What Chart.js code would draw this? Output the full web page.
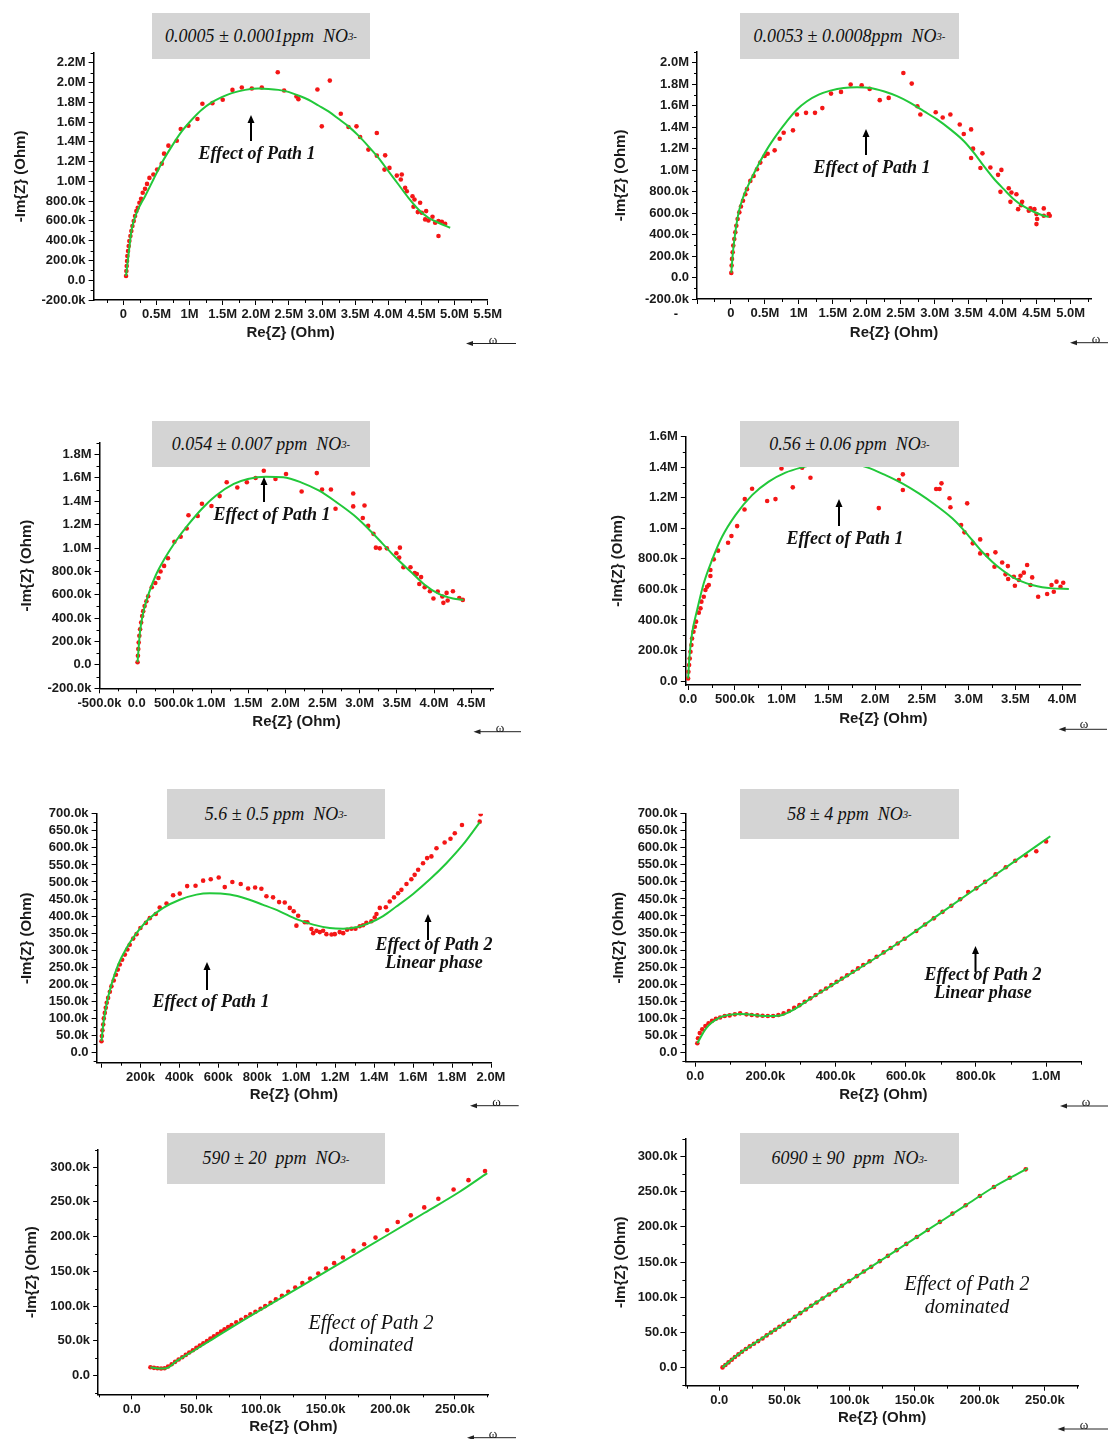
<!DOCTYPE html>
<html><head><meta charset="utf-8">
<script src="https://cdn.jsdelivr.net/npm/chart.js@4.4.1/dist/chart.umd.min.js"></script>
<style>
html,body{margin:0;padding:0;background:#fff;}
body{position:relative;width:1108px;height:1439px;overflow:hidden;}
canvas{position:absolute;}
.box{position:absolute;background:#d4d4d4;font-family:"Liberation Serif",serif;font-style:italic;font-size:18px;color:#111;display:flex;align-items:center;justify-content:center;white-space:pre;}
.box .s{font-size:0.6em;vertical-align:-0.15em;}
.note{position:absolute;transform:translate(-50%,-50%);font-family:"Liberation Serif",serif;font-style:italic;font-weight:bold;font-size:18px;color:#111;white-space:nowrap;line-height:1;}
.note.big{font-weight:normal;font-size:20px;}
.om{position:absolute;transform:translate(-50%,-50%);font-family:"Liberation Serif",serif;font-size:13px;color:#111;line-height:1;}
.dash{position:absolute;transform:translate(-50%,-50%);font-family:"Liberation Sans",sans-serif;font-weight:bold;font-size:13px;color:#111;}
svg{position:absolute;left:0;top:0;}
</style>
</head><body>
<script>
// ---------------- DATA ----------------
// Panel 1: 0.0005 ppm (x in M-ohm, y in M-ohm)
const p1X=[0.04,0.045,0.05,0.055,0.06,0.07,0.08,0.09,0.106,0.12,0.136,0.156,0.176,0.196,0.217,0.242,0.267,0.292,0.327,0.357,0.393,0.453,0.509,0.579,0.614,0.68,0.806,0.866,0.982,1.118,1.193,1.344,1.5,1.647,1.788,1.939,2.09,2.331,2.427,2.613,2.643,2.93,2.996,3.117,3.283,3.399,3.52,3.575,3.7,3.827,3.827,3.953,3.943,4.018,4.129,4.204,4.189,4.255,4.28,4.366,4.396,4.481,4.381,4.446,4.506,4.572,4.557,4.607,4.668,4.708,4.758,4.809,4.859,4.758];
const p1Y=[0.043,0.094,0.144,0.195,0.245,0.296,0.346,0.397,0.447,0.497,0.548,0.598,0.649,0.699,0.733,0.783,0.823,0.884,0.924,0.974,1.035,1.069,1.119,1.179,1.28,1.361,1.411,1.529,1.562,1.63,1.784,1.791,1.825,1.925,1.949,1.939,1.949,2.104,1.919,1.858,1.831,1.929,1.556,2.019,1.683,1.549,1.556,1.448,1.321,1.489,1.26,1.263,1.119,1.136,1.058,1.069,1.018,0.934,0.9,0.85,0.817,0.783,0.743,0.689,0.682,0.699,0.615,0.605,0.642,0.581,0.598,0.591,0.571,0.447];
const p1FitX=[0.04,0.075,0.125,0.2,0.327,0.453,0.579,0.73,0.881,1.032,1.183,1.334,1.485,1.636,1.838,2.039,2.19,2.341,2.492,2.643,2.795,2.946,3.097,3.248,3.399,3.55,3.7,3.852,4.003,4.154,4.305,4.456,4.607,4.758,4.935];
const p1FitY=[0.044,0.245,0.514,0.682,0.85,1.018,1.186,1.354,1.505,1.623,1.724,1.798,1.851,1.892,1.925,1.939,1.935,1.925,1.905,1.868,1.825,1.767,1.707,1.633,1.556,1.462,1.354,1.237,1.102,0.968,0.833,0.716,0.632,0.581,0.531];
const p1XTicks=[0,0.5,1,1.5,2,2.5,3,3.5,4,4.5,5,5.5];
const p1XLabels=['0','0.5M','1M','1.5M','2.0M','2.5M','3.0M','3.5M','4.0M','4.5M','5.0M','5.5M'];
const p1YTicks=[-0.2,0,0.2,0.4,0.6,0.8,1,1.2,1.4,1.6,1.8,2,2.2];
const p1YLabels=['-200.0k','0.0','200.0k','400.0k','600.0k','800.0k','1.0M','1.2M','1.4M','1.6M','1.8M','2.0M','2.2M'];

// Panel 2: 0.0053 ppm
const p2X=[0.005,0.01,0.015,0.025,0.034,0.049,0.064,0.079,0.098,0.123,0.147,0.177,0.211,0.236,0.285,0.334,0.383,0.432,0.496,0.54,0.643,0.717,0.776,0.913,0.972,1.105,1.237,1.345,1.473,1.62,1.762,1.924,2.042,2.19,2.322,2.538,2.661,2.744,2.788,3.014,3.117,3.23,3.368,3.427,3.535,3.564,3.702,3.535,3.672,3.819,3.932,3.981,3.967,4.089,4.129,4.202,4.114,4.286,4.271,4.227,4.384,4.408,4.467,4.497,4.605,4.678,4.693,4.507,4.497,4.605];
const p2Y=[0.043,0.111,0.173,0.235,0.297,0.358,0.42,0.482,0.544,0.606,0.661,0.714,0.775,0.822,0.899,0.945,1.007,1.069,1.131,1.152,1.183,1.291,1.347,1.369,1.517,1.532,1.532,1.576,1.711,1.727,1.795,1.789,1.755,1.65,1.671,1.903,1.804,1.594,1.517,1.538,1.489,1.517,1.424,1.335,1.378,1.199,1.155,1.112,1.019,1.023,0.955,1.001,0.797,0.831,0.791,0.775,0.704,0.704,0.673,0.636,0.621,0.643,0.636,0.59,0.643,0.59,0.575,0.544,0.497,0.575];
const p2FitX=[0.005,0.029,0.064,0.113,0.187,0.285,0.407,0.53,0.677,0.825,0.972,1.119,1.291,1.463,1.659,1.856,2.052,2.248,2.445,2.641,2.838,3.034,3.23,3.427,3.574,3.721,3.868,4.016,4.163,4.31,4.457,4.605,4.678];
const p2FitY=[0.043,0.235,0.42,0.606,0.76,0.899,1.053,1.192,1.331,1.455,1.563,1.64,1.702,1.739,1.764,1.77,1.764,1.733,1.687,1.625,1.548,1.471,1.378,1.27,1.162,1.038,0.921,0.822,0.729,0.661,0.612,0.575,0.565];
const p2XTicks=[-0.5,0,0.5,1,1.5,2,2.5,3,3.5,4,4.5,5];
const p2XLabels=['','0','0.5M','1M','1.5M','2.0M','2.5M','3.0M','3.5M','4.0M','4.5M','5.0M'];
const p2YTicks=[-0.2,0,0.2,0.4,0.6,0.8,1,1.2,1.4,1.6,1.8,2];
const p2YLabels=['-200.0k','0.0','200.0k','400.0k','600.0k','800.0k','1.0M','1.2M','1.4M','1.6M','1.8M','2.0M'];

// Panel 3: 0.054 ppm
const p3X=[0.012,0.017,0.022,0.027,0.036,0.046,0.06,0.074,0.088,0.107,0.131,0.155,0.203,0.25,0.293,0.321,0.369,0.421,0.507,0.592,0.673,0.697,0.821,0.878,1.006,1.116,1.211,1.354,1.482,1.6,1.71,1.867,2.009,2.219,2.423,2.494,2.613,2.675,2.913,2.913,3.065,3.042,3.114,3.185,3.218,3.27,3.365,3.493,3.541,3.531,3.588,3.683,3.74,3.769,3.826,3.802,3.874,3.945,3.992,4.05,4.112,4.126,4.183,4.169,4.254,4.34,4.387];
const p3Y=[0.023,0.079,0.136,0.192,0.249,0.305,0.362,0.418,0.46,0.503,0.545,0.588,0.664,0.701,0.743,0.799,0.847,0.912,1.054,1.096,1.167,1.28,1.274,1.379,1.359,1.444,1.562,1.517,1.562,1.599,1.661,1.59,1.633,1.483,1.641,1.5,1.5,1.336,1.466,1.356,1.364,1.257,1.189,1.121,1.003,0.997,0.997,0.955,1.003,0.918,0.836,0.836,0.785,0.777,0.751,0.692,0.664,0.63,0.568,0.627,0.585,0.531,0.551,0.616,0.63,0.573,0.556];
const p3FitX=[0.012,0.046,0.093,0.165,0.26,0.379,0.521,0.688,0.878,1.068,1.306,1.496,1.734,1.972,2.21,2.448,2.685,2.923,3.113,3.304,3.494,3.684,3.874,4.064,4.254,4.396];
const p3FitY=[0.023,0.291,0.46,0.616,0.771,0.912,1.054,1.195,1.336,1.449,1.548,1.59,1.61,1.605,1.562,1.492,1.393,1.28,1.167,1.04,0.912,0.799,0.686,0.607,0.568,0.556];
const p3XTicks=[-0.5,0,0.5,1,1.5,2,2.5,3,3.5,4,4.5];
const p3XLabels=['-500.0k','0.0','500.0k','1.0M','1.5M','2.0M','2.5M','3.0M','3.5M','4.0M','4.5M'];
const p3YTicks=[-0.2,0,0.2,0.4,0.6,0.8,1,1.2,1.4,1.6,1.8];
const p3YLabels=['-200.0k','0.0','200.0k','400.0k','600.0k','800.0k','1.0M','1.2M','1.4M','1.6M','1.8M'];

// Panel 4: 0.56 ppm
const p4X=[0.0,0.003,0.01,0.017,0.025,0.035,0.042,0.057,0.071,0.085,0.114,0.132,0.142,0.167,0.185,0.203,0.221,0.238,0.238,0.274,0.32,0.427,0.463,0.524,0.603,0.606,0.684,0.845,0.934,0.998,1.119,1.219,1.308,2.039,2.253,2.296,2.296,2.652,2.688,2.709,2.795,2.805,2.984,2.919,2.955,3.044,3.123,3.123,3.198,3.286,3.276,3.358,3.419,3.394,3.422,3.494,3.483,3.537,3.554,3.59,3.625,3.679,3.661,3.743,3.839,3.91,3.886,3.939,4.011,3.982];
const p4Y=[0.017,0.061,0.105,0.148,0.192,0.236,0.279,0.323,0.356,0.389,0.448,0.476,0.52,0.552,0.596,0.618,0.629,0.688,0.727,0.797,0.854,0.906,0.95,1.015,1.124,1.192,1.26,1.179,1.192,1.393,1.269,1.397,1.332,1.133,1.317,1.354,1.251,1.258,1.258,1.295,1.197,1.138,1.164,1.022,0.974,0.902,0.928,0.836,0.825,0.843,0.749,0.777,0.753,0.699,0.668,0.624,0.683,0.662,0.69,0.71,0.76,0.679,0.629,0.552,0.57,0.585,0.629,0.651,0.644,0.618];
const p4FitX=[0.0,0.014,0.042,0.096,0.167,0.256,0.363,0.506,0.684,0.862,1.041,1.219,1.4,1.57,1.75,1.914,2.11,2.289,2.467,2.645,2.824,2.93,3.037,3.144,3.251,3.358,3.465,3.572,3.679,3.786,3.893,4.071];
const p4FitY=[0.017,0.159,0.312,0.465,0.64,0.793,0.945,1.087,1.218,1.306,1.365,1.4,1.425,1.435,1.425,1.4,1.349,1.295,1.229,1.153,1.066,1.0,0.924,0.847,0.782,0.727,0.683,0.651,0.629,0.614,0.607,0.603];
const p4XTicks=[0,0.5,1,1.5,2,2.5,3,3.5,4];
const p4XLabels=['0.0','500.0k','1.0M','1.5M','2.0M','2.5M','3.0M','3.5M','4.0M'];
const p4YTicks=[0,0.2,0.4,0.6,0.8,1,1.2,1.4,1.6];
const p4YLabels=['0.0','200.0k','400.0k','600.0k','800.0k','1.0M','1.2M','1.4M','1.6M'];

// Panel 5: 5.6 ppm (x in M-ohm, y in k-ohm)
const p5X=[0.0,0.002,0.005,0.009,0.012,0.017,0.022,0.027,0.034,0.043,0.051,0.063,0.074,0.084,0.094,0.106,0.12,0.133,0.145,0.163,0.18,0.2,0.228,0.248,0.279,0.299,0.334,0.368,0.402,0.44,0.483,0.522,0.561,0.602,0.633,0.672,0.715,0.753,0.789,0.821,0.847,0.881,0.912,0.941,0.967,0.987,1.01,1.001,1.044,1.057,1.078,1.087,1.104,1.121,1.138,1.155,1.181,1.198,1.223,1.241,1.261,1.283,1.304,1.326,1.343,1.36,1.386,1.403,1.412,1.429,1.46,1.48,1.502,1.523,1.54,1.566,1.591,1.608,1.626,1.651,1.672,1.694,1.72,1.762,1.792,1.814,1.851,1.942,1.947];
const p5Y=[33,48,65,82,100,116,131,146,160,178,194,211,228,243,258,272,287,302,316,334,347,365,380,394,406,425,437,461,466,488,489,504,508,513,485,500,494,481,484,480,458,455,441,440,424,414,401,372,382,382,362,350,357,353,357,347,346,347,353,350,360,363,363,370,373,380,385,396,406,424,426,443,455,467,477,494,508,521,536,555,570,575,599,616,627,643,667,677,699];
const p5FitX=[0.0,0.009,0.026,0.051,0.086,0.128,0.18,0.24,0.317,0.402,0.488,0.556,0.659,0.744,0.83,0.915,1.001,1.087,1.172,1.241,1.309,1.377,1.446,1.514,1.6,1.685,1.771,1.857,1.942];
const p5FitY=[33,82,141,199,258,306,350,390,424,448,463,467,463,451,433,414,391,375,365,363,367,380,400,428,465,507,555,610,675];
const p5XTicks=[0,0.2,0.4,0.6,0.8,1,1.2,1.4,1.6,1.8,2];
const p5XLabels=['','200k','400k','600k','800k','1.0M','1.2M','1.4M','1.6M','1.8M','2.0M'];
const p5YTicks=[0,50,100,150,200,250,300,350,400,450,500,550,600,650,700];
const p5YLabels=['0.0','50.0k','100.0k','150.0k','200.0k','250.0k','300.0k','350.0k','400.0k','450.0k','500.0k','550.0k','600.0k','650.0k','700.0k'];

// Panel 6: 58 ppm (x in M-ohm, y in k-ohm)
const p6X=[0.006,0.008,0.013,0.02,0.029,0.038,0.048,0.059,0.071,0.084,0.098,0.113,0.128,0.146,0.161,0.177,0.192,0.207,0.222,0.237,0.252,0.267,0.282,0.297,0.312,0.328,0.343,0.358,0.373,0.388,0.403,0.418,0.433,0.449,0.464,0.479,0.497,0.517,0.537,0.557,0.577,0.597,0.63,0.655,0.68,0.705,0.73,0.755,0.778,0.801,0.826,0.856,0.885,0.912,0.942,0.972,1.0];
const p6Y=[26,41,56,67,77,85,92,98,102,106,108,111,114,111,109,108,107,106,106,109,114,121,130,138,148,158,168,178,187,197,207,216,226,236,246,256,267,280,293,306,319,333,356,375,393,412,430,449,470,481,500,522,543,562,578,590,619];
const p6FitX=[0.006,0.031,0.071,0.131,0.202,0.242,0.282,0.322,0.403,0.504,0.605,0.705,0.806,0.907,1.012];
const p6FitY=[26,70,102,112,106,108,126,153,205,270,339,412,485,558,634];
const p6XTicks=[0,0.2,0.4,0.6,0.8,1];
const p6XLabels=['0.0','200.0k','400.0k','600.0k','800.0k','1.0M'];
const p6YTicks=p5YTicks;
const p6YLabels=p5YLabels;

// Panel 7: 590 ppm (x, y in k-ohm)
const p7X=[14.5,17.2,19.9,22.7,25.4,28.1,30.9,33.6,36.3,39.1,41.8,44.5,47.3,50.0,52.7,55.4,58.2,60.9,63.6,66.4,69.1,71.8,74.6,77.3,80.9,84.7,88.3,91.8,95.7,99.7,103.3,107.4,111.5,116.2,121.1,126.5,132.0,138.0,144.3,150.3,156.6,163.4,171.6,179.8,188.6,197.6,205.8,215.9,226.3,237.2,249.0,260.5,273.3];
const p7Y=[12.0,11.1,10.6,10.1,10.6,13.0,16.3,19.7,23.0,26.4,29.7,33.1,36.4,39.8,43.1,46.5,49.8,53.2,56.5,59.9,63.2,66.6,69.9,72.8,76.6,80.4,84.3,88.1,91.9,96.2,100.0,104.8,109.6,114.9,120.6,126.8,133.1,139.8,146.9,154.1,161.8,169.9,179.5,189.0,198.6,209.1,221.1,230.6,242.1,254.6,267.9,281.3,294.3];
const p7FitX=[14.5,21.3,26.7,34.9,48.6,62.3,76.0,89.6,117.0,144.3,171.6,198.9,226.3,253.7,275];
const p7FitY=[12.0,10.1,10.6,21.1,36.4,52.2,68.0,83.3,113.4,143.1,173.2,203.4,234.0,264.6,291.5];
const p7XTicks=[0,50,100,150,200,250];
const p7XLabels=['0.0','50.0k','100.0k','150.0k','200.0k','250.0k'];
const p7YTicks=[0,50,100,150,200,250,300];
const p7YLabels=['0.0','50.0k','100.0k','150.0k','200.0k','250.0k','300.0k'];

// Panel 8: 6090 ppm (x, y in k-ohm)
const p8X=[2.5,4.7,7.1,9.6,12.0,14.7,17.4,20.4,23.4,26.6,29.9,33.2,36.4,39.7,42.9,46.2,49.5,53.5,58.1,62.2,66.5,70.6,74.7,79.3,84.2,89.1,94.2,99.7,105.6,111.0,116.7,123.2,129.5,136.2,143.6,151.7,160.1,169.4,179.1,189.2,200.1,210.9,223.1,235.3];
const p8Y=[0.5,3.8,7.6,11.4,15.2,18.9,22.7,26.5,30.3,34.1,37.8,41.6,45.9,50.1,53.9,58.2,61.9,66.7,72.3,77.5,82.7,87.9,92.6,98.3,104.0,110.1,116.3,122.9,130.0,136.6,143.2,151.3,158.8,166.9,175.8,185.7,195.6,207.0,218.8,230.6,243.8,256.6,269.8,281.6];
const p8FitX=[2.5,12.0,23.4,36.4,49.5,70.6,99.7,129.5,160.1,189.2,210.9,235.3,237];
const p8FitY=[0.5,15.2,30.3,45.9,61.9,87.9,122.9,158.8,195.6,230.6,256.6,281.6,283.5];
const p8XTicks=p7XTicks, p8XLabels=p7XLabels, p8YTicks=p7YTicks, p8YLabels=p7YLabels;

// ---------------- LAYOUT (positions / styles only) ----------------
const panels=[
 {pts:[p1X,p1Y],fit:[p1FitX,p1FitY],xt:[p1XTicks,p1XLabels],yt:[p1YTicks,p1YLabels],xr:[-0.45,5.5,0.5],yr:[-0.2,2.3,0.2],area:[93.6,51.7,487.6,300],yTX:21,xTY:333},
 {pts:[p2X,p2Y],fit:[p2FitX,p2FitY],xt:[p2XTicks,p2XLabels],yt:[p2YTicks,p2YLabels],xr:[-0.5,5.3,0.5],yr:[-0.2,2.1,0.2],area:[697,50.7,1091,299],yTX:621,xTY:333},
 {pts:[p3X,p3Y],fit:[p3FitX,p3FitY],xt:[p3XTicks,p3XLabels],yt:[p3YTicks,p3YLabels],xr:[-0.5,4.8,0.5],yr:[-0.2,1.9,0.2],area:[99,441.7,493,688.3],yTX:26.5,xTY:722},
 {pts:[p4X,p4Y],fit:[p4FitX,p4FitY],xt:[p4XTicks,p4XLabels],yt:[p4YTicks,p4YLabels],xr:[-0.025,4.2,0.5],yr:[-0.026,1.6,0.2],area:[685.4,436,1080.5,685],yTX:617.6,xTY:719},
 {pts:[p5X,p5Y],fit:[p5FitX,p5FitY],xt:[p5XTicks,p5XLabels],yt:[p5YTicks,p5YLabels],xr:[-0.025,2.0,0.2],yr:[-30,700,50],area:[96.1,813.3,490.5,1062.7],yTX:26.5,xTY:1095},
 {pts:[p6X,p6Y],fit:[p6FitX,p6FitY],xt:[p6XTicks,p6XLabels],yt:[p6YTicks,p6YLabels],xr:[-0.028,1.1,0.2],yr:[-28,700,50],area:[685.4,812.7,1081.2,1061.7],yTX:619,xTY:1095},
 {pts:[p7X,p7Y],fit:[p7FitX,p7FitY],xt:[p7XTicks,p7XLabels],yt:[p7YTicks,p7YLabels],xr:[-26,276,50],yr:[-27,325,50],area:[97.9,1149,488.3,1394.3],yTX:31.8,xTY:1427},
 {pts:[p8X,p8Y],fit:[p8FitX,p8FitY],xt:[p8XTicks,p8XLabels],yt:[p8YTicks,p8YLabels],xr:[-26,276,50],yr:[-25.5,325,50],area:[685.4,1138.3,1078.7,1385.7],yTX:621,xTY:1418}
];

const minorTicks={
  id:'minorTicks',
  afterDraw(chart,args,opts){
    const ctx=chart.ctx;ctx.save();ctx.strokeStyle='#000';ctx.lineWidth=1;
    [['x',opts.xStep],['y',opts.yStep]].forEach(([id,step])=>{
      const s=chart.scales[id];const h=step/2;
      const k0=Math.ceil(s.min/h-1e-9),k1=Math.floor(s.max/h+1e-9);
      for(let k=k0;k<=k1;k++){
        if(k%2===0) continue;
        const p=Math.round(s.getPixelForValue(k*h))+0.5;
        ctx.beginPath();
        if(id==='x'){ctx.moveTo(p,s.top);ctx.lineTo(p,s.top+3);}
        else{ctx.moveTo(s.right,p);ctx.lineTo(s.right-3,p);}
        ctx.stroke();
      }
    });
    ctx.restore();
  }
};

function labeler(vals,labs){
  return function(v){
    for(let i=0;i<vals.length;i++){ if(Math.abs(vals[i]-v)<1e-6*Math.max(1,Math.abs(v))) return labs[i]; }
    return '';
  };
}
const tickFont={family:'Liberation Sans',size:13,weight:'bold'};
const titleFont={family:'Liberation Sans',size:15,weight:'bold'};
const TOFF=15*1.2/2+4;

panels.forEach(pn=>{
  const [aL,aT,aR,aB]=pn.area;
  const L=pn.yTX-TOFF, T=aT-10, B=pn.xTY+TOFF, R=Math.min(aR+22,1108);
  const W=Math.round(R-L), H=Math.round(B-T);
  const yW=aL-L, xH=B-aB, padR=W-(aR-L);
  const cv=document.createElement('canvas');
  cv.width=W;cv.height=H;cv.style.left=L+'px';cv.style.top=T+'px';cv.style.width=W+'px';cv.style.height=H+'px';
  document.body.appendChild(cv);
  const meas=pn.pts[0].map((x,i)=>({x:x,y:pn.pts[1][i]}));
  const fit=pn.fit[0].map((x,i)=>({x:x,y:pn.fit[1][i]}));
  const xVals=pn.xt[0], yVals=pn.yt[0];
  new Chart(cv,{
    type:'scatter',
    data:{datasets:[
      {data:fit,showLine:true,borderColor:'#22c83a',borderWidth:2,pointRadius:0,cubicInterpolationMode:'monotone',order:0},
      {data:meas,showLine:false,pointRadius:2.3,pointBackgroundColor:'#f41616',pointBorderWidth:0,order:1}
    ]},
    options:{
      responsive:false,animation:false,devicePixelRatio:1,
      layout:{padding:{left:0,top:10,right:padR,bottom:0}},
      plugins:{legend:{display:false},tooltip:{enabled:false},minorTicks:{xStep:pn.xr[2],yStep:pn.yr[2]}},
      scales:{
        x:{type:'linear',min:pn.xr[0],max:pn.xr[1],
           afterBuildTicks:(s)=>{s.ticks=xVals.map(v=>({value:v}));},
           afterFit:(s)=>{s.height=xH;},
           border:{display:true,color:'#000',width:1.5},
           grid:{display:true,drawOnChartArea:false,drawTicks:true,tickLength:5,tickColor:'#000',color:'#000'},
           ticks:{autoSkip:false,maxRotation:0,minRotation:0,padding:2,color:'#1a1a1a',font:tickFont,callback:labeler(pn.xt[0],pn.xt[1])},
           title:{display:true,text:'Re{Z} (Ohm)',color:'#1a1a1a',font:titleFont,padding:{top:4,bottom:4}}},
        y:{type:'linear',min:pn.yr[0],max:pn.yr[1],
           afterBuildTicks:(s)=>{s.ticks=yVals.map(v=>({value:v}));},
           afterFit:(s)=>{s.width=yW;},
           border:{display:true,color:'#000',width:1.5},
           grid:{display:true,drawOnChartArea:false,drawTicks:true,tickLength:5,tickColor:'#000',color:'#000'},
           ticks:{autoSkip:false,padding:3,color:'#1a1a1a',font:tickFont,callback:labeler(pn.yt[0],pn.yt[1])},
           title:{display:true,text:'-Im{Z} (Ohm)',color:'#1a1a1a',font:titleFont,padding:{top:4,bottom:4}}}
      }
    },
    plugins:[minorTicks]
  });
});

// ---------------- OVERLAYS ----------------
const boxes=[
 [152,13,218,46,'0.0005 ± 0.0001ppm  NO'],
 [740,13,219,46,'0.0053 ± 0.0008ppm  NO'],
 [152,421,218,46,'0.054 ± 0.007 ppm  NO'],
 [740,421,219,46,'0.56 ± 0.06 ppm  NO'],
 [167,789,218,50,'5.6 ± 0.5 ppm  NO'],
 [740,789,219,50,'58 ± 4 ppm  NO'],
 [167,1133,218,51,'590 ± 20  ppm  NO'],
 [740,1133,219,51,'6090 ± 90  ppm  NO']
];
const notes=[
 [257,153,'Effect of Path 1',''],
 [872,167,'Effect of Path 1',''],
 [272,514,'Effect of Path 1',''],
 [845,538,'Effect of Path 1',''],
 [211,1001,'Effect of Path 1',''],
 [434,944,'Effect of Path 2',''],
 [434,962,'Linear phase',''],
 [983,974,'Effect of Path 2',''],
 [983,992,'Linear phase',''],
 [371,1322,'Effect of Path 2','big'],
 [371,1344,'dominated','big'],
 [967,1283,'Effect of Path 2','big'],
 [967,1306,'dominated','big']
];
const upArrows=[[251,115,141],[866,129,155],[264,477,502],[839,499,526],[207,962,990],[428,914,940],[975.5,946,972]];
const omegas=[[493,339,466,516,343.5],[1096,338,1070,1108,342.7],[500,727,473.5,521,731.7],[1084,723,1058.6,1107,729.3],[496.5,1101,470,518.7,1105.7],[1086,1101,1060,1108,1106],[493,1433,467,516,1437.7],[1084,1424,1057.5,1108,1429]];

let svg='<svg width="1108" height="1439" xmlns="http://www.w3.org/2000/svg">';
upArrows.forEach(([x,tip,tail])=>{
  svg+=`<line x1="${x}" y1="${tail}" x2="${x}" y2="${tip+6}" stroke="#000" stroke-width="2"/>`;
  svg+=`<polygon points="${x},${tip} ${x-3.5},${tip+8} ${x+3.5},${tip+8}" fill="#000"/>`;
});
omegas.forEach(([ox,oy,x1,x2,y])=>{
  svg+=`<line x1="${x1+5}" y1="${y}" x2="${x2}" y2="${y}" stroke="#222" stroke-width="1"/>`;
  svg+=`<polygon points="${x1},${y} ${x1+7},${y-2.5} ${x1+7},${y+2.5}" fill="#222"/>`;
});
svg+='</svg>';
const holder=document.createElement('div');holder.innerHTML=svg;document.body.appendChild(holder.firstChild);

boxes.forEach(([l,t,w,h,txt])=>{
  const d=document.createElement('div');d.className='box';
  d.style.left=l+'px';d.style.top=t+'px';d.style.width=w+'px';d.style.height=h+'px';
  d.innerHTML=txt+'<span class="s">3-</span>';
  document.body.appendChild(d);
});
notes.forEach(([x,y,txt,cls])=>{
  const d=document.createElement('div');d.className='note '+cls;
  d.style.left=x+'px';d.style.top=y+'px';d.textContent=txt;document.body.appendChild(d);
});
omegas.forEach(([ox,oy])=>{
  const d=document.createElement('div');d.className='om';
  d.style.left=ox+'px';d.style.top=oy+'px';d.textContent='ω';document.body.appendChild(d);
});
const dash=document.createElement('div');dash.className='dash';dash.style.left='676px';dash.style.top='313px';dash.textContent='-';document.body.appendChild(dash);
</script>
</body></html>
